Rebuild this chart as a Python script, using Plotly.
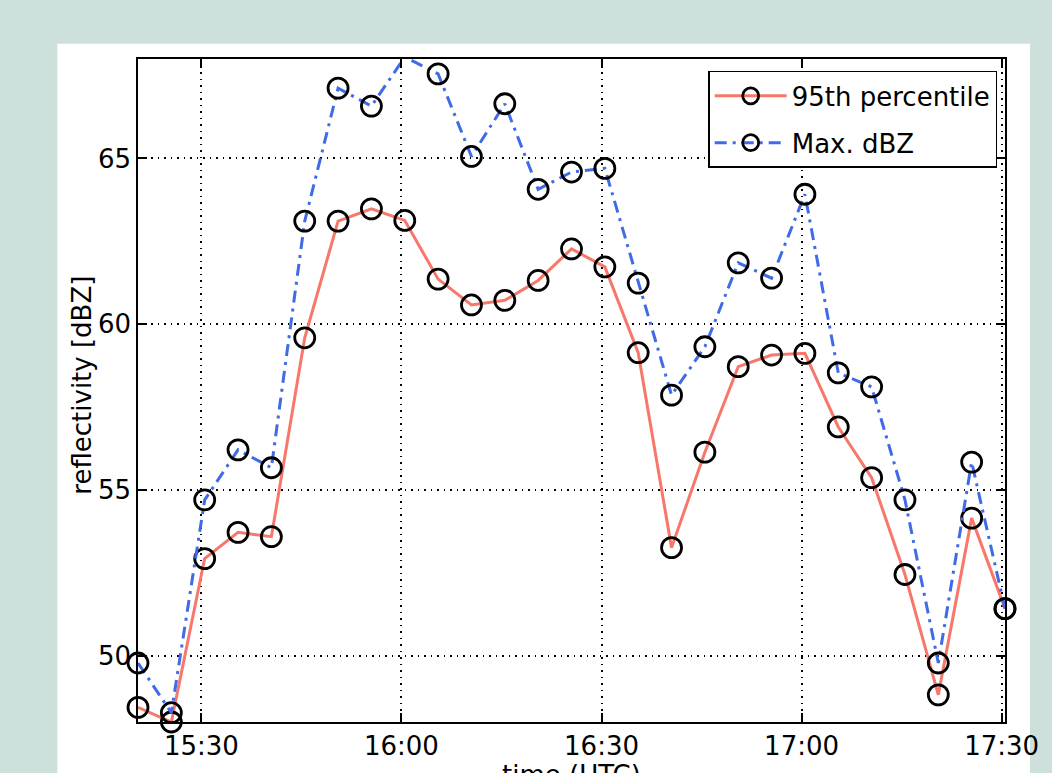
import plotly.graph_objects as go

times = ["15:20:30", "15:25:30", "15:30:30", "15:35:30", "15:40:30", "15:45:30",
         "15:50:30", "15:55:30", "16:00:30", "16:05:30", "16:10:30", "16:15:30",
         "16:20:30", "16:25:30", "16:30:30", "16:35:30", "16:40:30", "16:45:30",
         "16:50:30", "16:55:30", "17:00:30", "17:05:30", "17:10:30", "17:15:30",
         "17:20:30", "17:25:30", "17:30:30"]
p95 = [48.44, 48.0, 52.93, 53.72, 53.59, 59.59, 63.11, 63.48, 63.13, 61.36, 60.58, 60.72,
       61.32, 62.27, 61.73, 59.14, 53.26, 56.14, 58.72, 59.07, 59.12, 56.90, 55.37,
       52.45, 48.82, 54.15, 51.42]
maxdbz = [49.78, 48.28, 54.70, 56.21, 55.67, 63.11, 67.12, 66.58, 68.06, 67.55, 65.06, 66.65,
          64.07, 64.59, 64.70, 61.24, 57.86, 59.32, 61.85, 61.39, 63.92, 58.53, 58.11,
          54.70, 49.78, 55.84, 51.42]
xticks = ["15:30", "16:00", "16:30", "17:00", "17:30"]
yticks = [50, 55, 60, 65]

day = "2000-01-01 "
x = [day + t for t in times]

FONT = "DejaVu Sans, Liberation Sans, Arial, sans-serif"
FS = 26
marker = dict(symbol="circle-open", size=20, color="black", line=dict(width=2.8, color="black"))

fig = go.Figure()
fig.add_trace(go.Scatter(x=x, y=p95, mode="lines+markers", name="95th percentile",
                         line=dict(color="#f8776b", width=3), marker=marker,
                         cliponaxis=False, legendgroup="a"))
fig.add_trace(go.Scatter(x=x, y=maxdbz, mode="lines+markers", name="Max. dBZ",
                         line=dict(color="#3f6be6", width=3, dash="12px,6px,3px,6px"), marker=marker,
                         cliponaxis=False, legendgroup="b"))

# white panel behind axes
fig.add_shape(type="rect", xref="paper", yref="paper", x0=-0.093, x1=1.0288, y0=-0.3, y1=1.0231,
              fillcolor="white", line=dict(width=0), layer="below")

# axis titles
fig.add_annotation(text="time (UTC)", xref="paper", yref="paper", x=0.5, y=-0.054,
                   xanchor="center", yanchor="top", showarrow=False,
                   font=dict(family=FONT, size=FS, color="black"))
fig.add_annotation(text="reflectivity [dBZ]", xref="paper", yref="paper", x=-0.064, y=0.508,
                   xanchor="center", yanchor="middle", textangle=-90, showarrow=False,
                   font=dict(family=FONT, size=FS, color="black"))

fig.update_layout(
    width=1052, height=773,
    margin=dict(l=138, r=47, t=59, b=51),
    paper_bgcolor="#cde0dc", plot_bgcolor="white",
    font=dict(family=FONT, size=FS, color="black"),
    showlegend=True,
    legend=dict(x=0.991, y=0.982, xanchor="right", yanchor="top",
                bgcolor="white", bordercolor="black", borderwidth=1.5,
                font=dict(size=FS), itemwidth=72, tracegroupgap=10,
                traceorder="grouped"),
)
fig.update_xaxes(
    type="date", automargin=False,
    range=[day + "15:20:30", day + "17:30:30"],
    tickvals=[day + t for t in xticks], ticktext=xticks,
    showline=True, linecolor="black", linewidth=1.5, mirror="ticks",
    ticks="inside", ticklen=9, tickwidth=1.5, tickcolor="black",
    showgrid=True, gridcolor="black", griddash="1.5px,5px", gridwidth=1.5,
    zeroline=False, tickfont=dict(size=FS),
)
fig.update_yaxes(
    range=[48, 68], automargin=False,
    tickvals=yticks,
    showline=True, linecolor="black", linewidth=1.5, mirror="ticks",
    ticks="inside", ticklen=9, tickwidth=1.5, tickcolor="black",
    showgrid=True, gridcolor="black", griddash="1.5px,5px", gridwidth=1.5,
    zeroline=False, tickfont=dict(size=FS),
)

fig.write_html("out.html")
